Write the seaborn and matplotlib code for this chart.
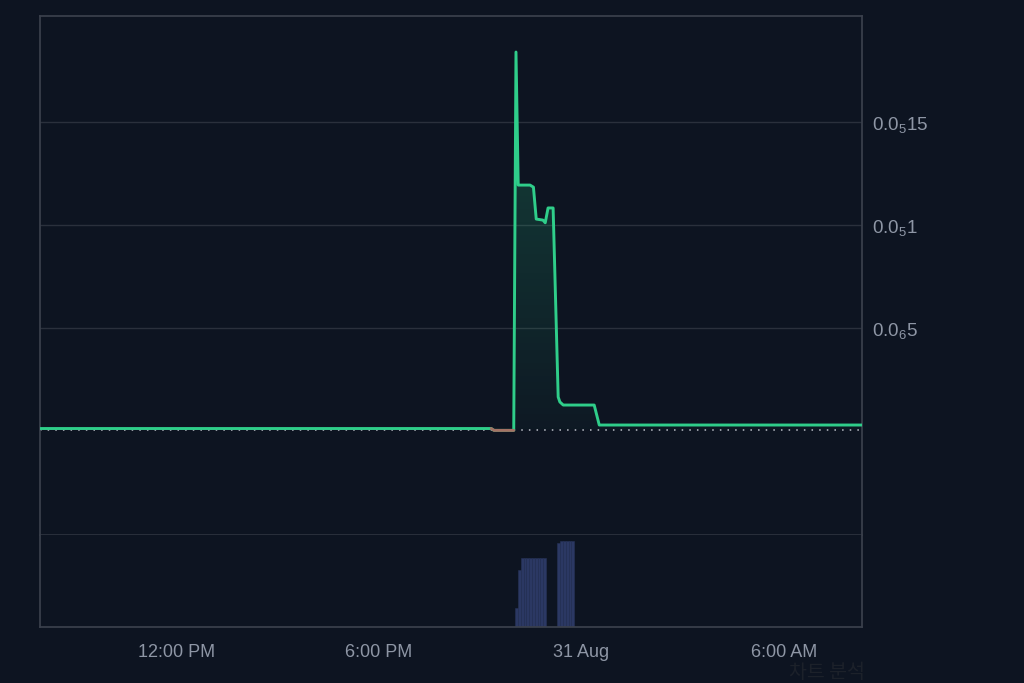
import numpy as np
import pandas as pd
import matplotlib
matplotlib.use("Agg")
import matplotlib.pyplot as plt
import matplotlib.dates as mdates
from matplotlib.ticker import FuncFormatter, FixedLocator
from matplotlib.colors import LinearSegmentedColormap
import seaborn as sns

# price line vertices, price in units of 1e-6
price_times = ["2024-08-30 07:50", "2024-08-30 21:20", "2024-08-30 21:25", "2024-08-30 22:00",
               "2024-08-30 22:04", "2024-08-30 22:08", "2024-08-30 22:29", "2024-08-30 22:35",
               "2024-08-30 22:40", "2024-08-30 22:52", "2024-08-30 22:56", "2024-08-30 23:01",
               "2024-08-30 23:10", "2024-08-30 23:19", "2024-08-30 23:22", "2024-08-30 23:28",
               "2024-08-31 00:23", "2024-08-31 00:32", "2024-08-31 08:30"]
price_values = [0.012, 0.012, 0.003, 0.003, 1.840, 1.194, 1.194, 1.184, 1.029, 1.024, 1.011,
                1.083, 1.083, 0.165, 0.141, 0.126, 0.126, 0.029, 0.029]
base_price = 0.007  # previous close (dotted line)

# 5-minute volume bars
vol_times = ["2024-08-30 22:05", "2024-08-30 22:10", "2024-08-30 22:15", "2024-08-30 22:20",
             "2024-08-30 22:25", "2024-08-30 22:30", "2024-08-30 22:35", "2024-08-30 22:40",
             "2024-08-30 22:45", "2024-08-30 22:50", "2024-08-30 22:55", "2024-08-30 23:20",
             "2024-08-30 23:25", "2024-08-30 23:30", "2024-08-30 23:35", "2024-08-30 23:40",
             "2024-08-30 23:45"]
vol_values = [190, 570, 690, 690, 690, 690, 690, 690, 690, 690, 690, 840,
              860, 860, 860, 860, 860]

price_ticks = [0.5e-6, 1.0e-6, 1.5e-6]
x_range = ["2024-08-30 07:58", "2024-08-31 08:19"]
watermark = "차트 분석"

bg = "#0d1421"
grid_c = "#2a303c"
spine_c = "#3a404c"
label_c = "#8e96a5"
green = "#2fce8a"
red = "#b8625e"
bar_c = "#2b3863"

sns.set_theme(style="dark", rc={
    "figure.facecolor": bg, "axes.facecolor": bg, "axes.edgecolor": spine_c,
    "grid.color": grid_c, "text.color": label_c,
    "xtick.color": label_c, "ytick.color": label_c,
})
plt.rcParams["font.family"] = ["Liberation Sans", "DejaVu Sans"]
plt.rcParams["mathtext.default"] = "regular"

df = pd.DataFrame({"time": pd.to_datetime(price_times),
                   "price": np.array(price_values) * 1e-6})
vol = pd.DataFrame({"time": pd.to_datetime(vol_times), "volume": vol_values})
base = base_price * 1e-6

fig = plt.figure(figsize=(10.24, 6.83), dpi=100)
ax = fig.add_axes([40 / 1024, 1 - 535 / 683, 822 / 1024, 519 / 683])
axv = fig.add_axes([40 / 1024, 1 - 627 / 683, 822 / 1024, 92 / 683], sharex=ax)

# gradient fill under the green part of the line
xn = mdates.date2num(df["time"])
yv = df["price"].values
m = xn >= mdates.date2num(pd.Timestamp("2024-08-30 22:00"))
poly = ax.fill_between(xn[m], yv[m], base, color="none", lw=0)
grad = LinearSegmentedColormap.from_list("g", [(0.18, 0.81, 0.54, 0.03), (0.18, 0.81, 0.54, 0.26)])
img = ax.imshow(np.linspace(0, 1, 256).reshape(-1, 1), cmap=grad, aspect="auto",
                origin="lower", extent=[xn[m][0], xn[-1], base, yv.max()], zorder=1)
img.set_clip_path(poly.get_paths()[0], transform=ax.transData)

ax.axhline(base, color="#d0d4dc", linestyle=(0, (1, 4)), linewidth=1.1, alpha=0.9, zorder=2)
sns.lineplot(data=df, x="time", y="price", ax=ax, color=green, linewidth=2.1, zorder=3)
sns.lineplot(data=df.iloc[1:4], x="time", y="price", ax=ax, color=red, linewidth=2.1,
             alpha=0.85, zorder=4)

axv.bar(vol["time"], vol["volume"], width=5 / 1440, color=bar_c, edgecolor="#253156",
        linewidth=0.4, zorder=2)

ax.set_xlim(pd.to_datetime(x_range[0]), pd.to_datetime(x_range[1]))
ax.set_ylim(-0.505e-6, 2.015e-6)
axv.set_ylim(0, 920)


def sub_fmt(v, pos):
    dec = f"{v:.10f}".rstrip("0").split(".")[1]
    zeros = len(dec) - len(dec.lstrip("0"))
    return f"0.0$_{{{zeros}}}${dec.lstrip('0')}"


ax.yaxis.set_major_locator(FixedLocator(price_ticks))
ax.yaxis.set_major_formatter(FuncFormatter(sub_fmt))
ax.yaxis.tick_right()
ax.tick_params(axis="y", length=0, pad=7, labelsize=13.5)
ax.tick_params(axis="x", length=0, labelbottom=False)
ax.grid(axis="y", color=grid_c, linewidth=1)
ax.grid(axis="x", visible=False)
ax.set_xlabel("")
ax.set_ylabel("")
ax.spines["bottom"].set_color("#2d333e")
for s in ["top", "left", "right"]:
    ax.spines[s].set_color(spine_c)

axv.xaxis.set_major_locator(mdates.HourLocator(byhour=[0, 6, 12, 18]))


def time_fmt(v, pos):
    t = mdates.num2date(v)
    if t.hour == 0:
        return f"{t.day} {t.strftime('%b')}"
    return f"{(t.hour - 1) % 12 + 1}:{t.strftime('%M %p')}"


axv.xaxis.set_major_formatter(FuncFormatter(time_fmt))
axv.tick_params(axis="x", length=0, pad=12, labelsize=13)
axv.tick_params(axis="y", length=0, labelleft=False, labelright=False)
axv.grid(False)
axv.spines["top"].set_visible(False)
for s in ["bottom", "left", "right"]:
    axv.spines[s].set_color(spine_c)

fig.text(827 / 1024, 1 - 673 / 683, watermark, ha="center", va="center", fontsize=14,
         color="#1c212a", family=["Noto Sans CJK KR", "DejaVu Sans"])

fig.savefig("out.png", dpi=100, facecolor=bg)
